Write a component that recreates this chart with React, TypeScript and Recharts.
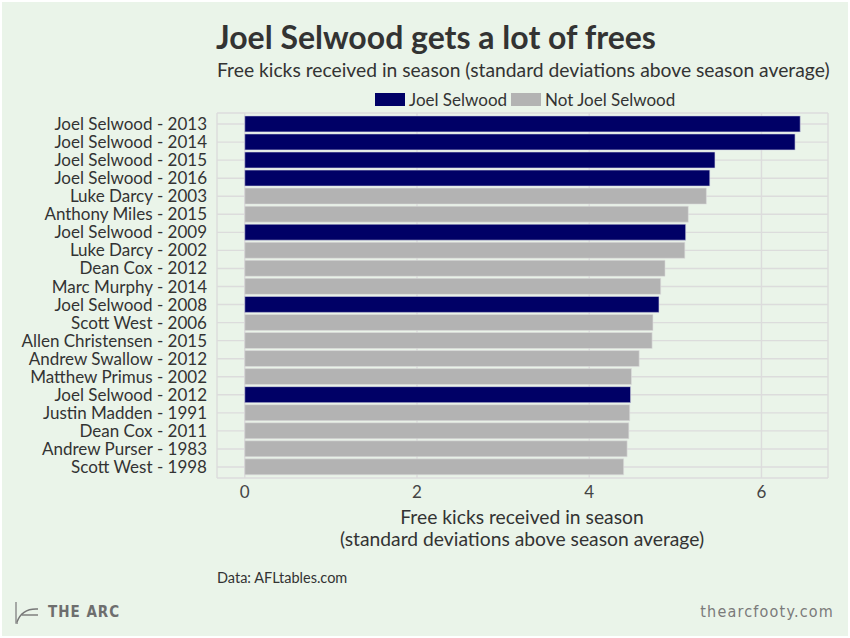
import { BarChart, Bar, XAxis, YAxis, CartesianGrid, Legend } from 'recharts'

const players = [
  'Joel Selwood - 2013',
  'Joel Selwood - 2014',
  'Joel Selwood - 2015',
  'Joel Selwood - 2016',
  'Luke Darcy - 2003',
  'Anthony Miles - 2015',
  'Joel Selwood - 2009',
  'Luke Darcy - 2002',
  'Dean Cox - 2012',
  'Marc Murphy - 2014',
  'Joel Selwood - 2008',
  'Scott West - 2006',
  'Allen Christensen - 2015',
  'Andrew Swallow - 2012',
  'Matthew Primus - 2002',
  'Joel Selwood - 2012',
  'Justin Madden - 1991',
  'Dean Cox - 2011',
  'Andrew Purser - 1983',
  'Scott West - 1998',
]

// standard deviations above season average
const sdAbove = [6.45, 6.39, 5.46, 5.40, 5.36, 5.15, 5.12, 5.11, 4.88, 4.83, 4.81, 4.74, 4.73, 4.58, 4.49, 4.48, 4.47, 4.46, 4.44, 4.40]

const isSelwood = [true, true, true, true, false, false, true, false, false, false, true, false, false, false, false, true, false, false, false, false]

const xTicks = [0, 2, 4, 6]

const data = players.map((name, i) => ({
  name,
  selwood: isSelwood[i] ? sdAbove[i] : null,
  other: isSelwood[i] ? null : sdAbove[i],
}))

const FONT = 'Lato, "Open Sans", sans-serif'
const FOOT_FONT = '"DejaVu Sans Condensed", "Liberation Sans Narrow", sans-serif'

const renderLegend = (props: any) => {
  const { payload } = props
  return (
    <div style={{ display: 'flex', alignItems: 'center', fontFamily: FONT, fontSize: 17, color: '#333', whiteSpace: 'nowrap' }}>
      {(payload || []).map((entry: any) => (
        <div key={entry.value} style={{ display: 'flex', alignItems: 'center', marginRight: 4 }}>
          <span style={{ display: 'inline-block', width: 30, height: 13, background: entry.color, marginRight: 4 }} />
          <span>{entry.value}</span>
        </div>
      ))}
    </div>
  )
}

export default function App() {
  return (
    <div style={{ position: 'absolute', top: 0, left: 0, width: 850, height: 638, background: '#ffffff', fontFamily: FONT }}>
      <div style={{ position: 'absolute', top: 2, left: 2, width: 846, height: 634, background: '#eaf4e9' }} />

      <div style={{ position: 'absolute', left: 216, top: 17, fontSize: 32, fontWeight: 700, color: '#333', whiteSpace: 'nowrap' }}>
        Joel Selwood gets a lot of frees
      </div>
      <div style={{ position: 'absolute', left: 217, top: 58, fontSize: 19.3, color: '#333', whiteSpace: 'nowrap' }}>
        Free kicks received in season (standard deviations above season average)
      </div>

      <div style={{ position: 'absolute', top: 0, left: 0 }}>
        <BarChart
          width={850}
          height={638}
          data={data}
          layout="vertical"
          margin={{ top: 113, right: 22, bottom: 130, left: 17 }}
          barCategoryGap="5%"
        >
          <CartesianGrid stroke="#dcdcdc" strokeWidth={1.4} />
          <XAxis
            type="number"
            domain={[-0.3225, 6.7725]}
            ticks={xTicks}
            allowDataOverflow
            axisLine={false}
            tickLine={false}
            height={30}
            tick={{ fontSize: 17, fill: '#444', fontFamily: FONT }}
          />
          <YAxis
            type="category"
            dataKey="name"
            width={200}
            axisLine={false}
            tickLine={false}
            tickMargin={4}
            interval={0}
            padding={{ top: 2, bottom: 2 }}
            tick={{ fontSize: 17, fill: '#333', fontFamily: FONT }}
          />
          <Legend
            content={renderLegend}
            layout="horizontal"
            verticalAlign="middle"
            align="center"
            wrapperStyle={{ position: 'absolute', top: 89, left: 375, width: 'auto', height: 20 }}
          />
          <Bar dataKey="selwood" name="Joel Selwood" stackId="a" fill="#000066" stroke="#d4d4e2" strokeWidth={0.6} isAnimationActive={false} />
          <Bar dataKey="other" name="Not Joel Selwood" stackId="a" fill="#b3b3b3" stroke="#dedede" strokeWidth={0.6} isAnimationActive={false} />
        </BarChart>
      </div>

      <div style={{ position: 'absolute', left: 222, width: 600, top: 506, textAlign: 'center', fontSize: 19.3, lineHeight: '21.5px', color: '#333', whiteSpace: 'nowrap' }}>
        Free kicks received in season
        <br />
        (standard deviations above season average)
      </div>

      <div style={{ position: 'absolute', left: 217, top: 569, fontSize: 14.5, color: '#333', whiteSpace: 'nowrap' }}>
        Data: AFLtables.com
      </div>

      <svg style={{ position: 'absolute', left: 14, top: 601 }} width={26} height={24}>
        <path d="M2 1 V22 H4" stroke="#888" strokeWidth={1.4} fill="none" />
        <path d="M3 21 Q8 7 24 8" stroke="#777" strokeWidth={1.4} fill="none" />
        <path d="M8 14 H24" stroke="#777" strokeWidth={1.4} fill="none" />
      </svg>
      <div style={{ position: 'absolute', left: 48, top: 603, fontSize: 15, fontWeight: 700, letterSpacing: 1, color: '#6e6e6e', fontFamily: FOOT_FONT, whiteSpace: 'nowrap' }}>
        THE ARC
      </div>
      <div style={{ position: 'absolute', right: 16, top: 602, fontSize: 16, letterSpacing: 1.2, color: '#7a7a7a', fontFamily: FOOT_FONT, whiteSpace: 'nowrap' }}>
        thearcfooty.com
      </div>
    </div>
  )
}
